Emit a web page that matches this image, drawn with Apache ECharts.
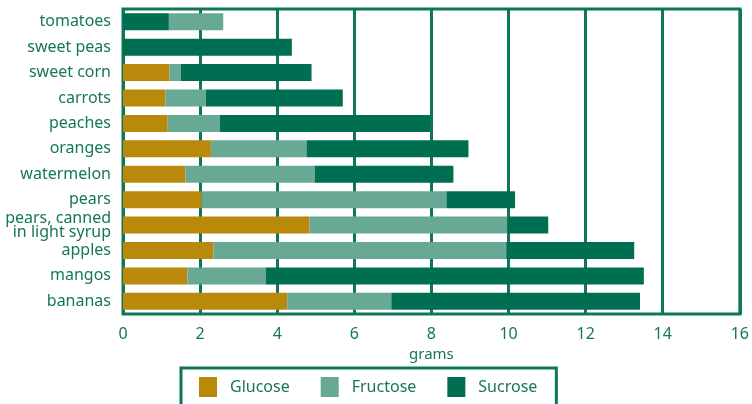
<!DOCTYPE html>
<html>
<head>
<meta charset="utf-8">
<script src="https://cdn.jsdelivr.net/npm/echarts@6/dist/echarts.min.js"></script>
<style>html,body{margin:0;padding:0;background:#fff}#c{width:752px;height:404px}</style>
</head>
<body>
<div id="c"></div>
<script>
var categories = ["tomatoes","sweet peas","sweet corn","carrots","peaches","oranges","watermelon","pears","pears, canned\nin light syrup","apples","mangos","bananas"];
var glucose  = [1.19, 0,    1.2,  1.1,  1.16, 2.28, 1.62, 2.04, 4.84, 2.35, 1.67, 4.26];
var fructose = [1.41, 0,    0.30, 1.05, 1.35, 2.48, 3.35, 6.35, 5.13, 7.59, 2.03, 2.70];
var sucrose  = [0,    4.38, 3.39, 3.55, 5.46, 4.20, 3.60, 1.78, 1.06, 3.32, 9.81, 6.45];
var xTicks = [0,2,4,6,8,10,12,14,16];
var seriesNames = ["Glucose","Fructose","Sucrose"];

var C_GLU = '#b9890b', C_FRU = '#68a995', C_SUC = '#006e51';
var TXT = '#15775a', LINE = '#0f7657';

var gluData = glucose.map(function(v,i){
  // tomatoes first segment is drawn in dark green in the reference
  return i === 0 ? {value: v, itemStyle:{color: C_SUC}} : v;
});

var chart = echarts.init(document.getElementById('c'), null, {renderer:'canvas'});
chart.setOption({
  animation: false,
  textStyle: {fontFamily: 'Noto Sans'},
  grid: {left: 123, right: 11, top: 9, bottom: 90, show: true, borderColor: LINE, borderWidth: 3, backgroundColor: 'transparent'},
  xAxis: {
    type: 'value', min: xTicks[0], max: xTicks[xTicks.length-1], interval: 2,
    axisLine: {show: false}, axisTick: {show: false},
    splitLine: {show: true, lineStyle: {color: LINE, width: 3}},
    axisLabel: {color: TXT, fontSize: 16, margin: 12, fontFamily: 'Noto Sans'},
    name: 'grams', nameLocation: 'middle', nameGap: 31,
    nameTextStyle: {color: TXT, fontSize: 15, fontFamily: 'Noto Sans'}
  },
  yAxis: {
    type: 'category', data: categories, inverse: true,
    axisLine: {show: false}, axisTick: {show: false}, splitLine: {show: false},
    axisLabel: {color: TXT, fontSize: 16, margin: 12, lineHeight: 14, fontFamily: 'Noto Sans', align: 'right'}
  },
  legend: {
    data: seriesNames, left: 181, top: 368, orient: 'horizontal',
    itemWidth: 18, itemHeight: 20, itemGap: 31,
    padding: [9, 19, 20, 18],
    borderColor: LINE, borderWidth: 3,
    icon: 'rect',
    textStyle: {color: TXT, fontSize: 16, fontFamily: 'Noto Sans', padding: [9,0,0,8]}
  },
  series: [
    {name: seriesNames[0], type: 'bar', stack: 's', data: gluData, barWidth: 17, itemStyle: {color: C_GLU}},
    {name: seriesNames[1], type: 'bar', stack: 's', data: fructose, barWidth: 17, itemStyle: {color: C_FRU}},
    {name: seriesNames[2], type: 'bar', stack: 's', data: sucrose, barWidth: 17, itemStyle: {color: C_SUC}}
  ]
});
</script>
</body>
</html>
